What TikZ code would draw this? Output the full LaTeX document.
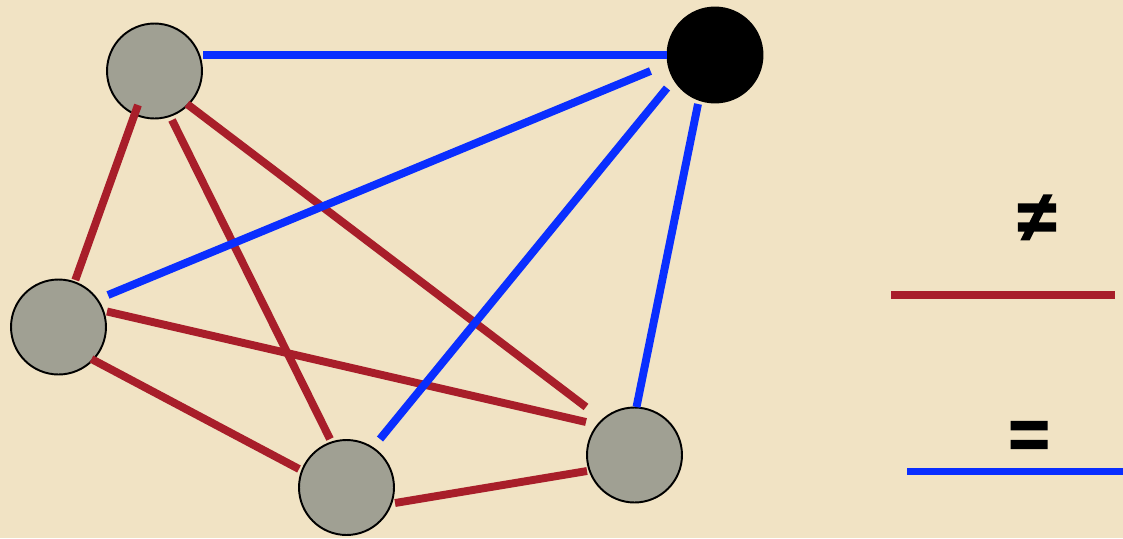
\documentclass[tikz,border=0pt]{standalone}
\usepackage{fontspec}
\setmainfont{Liberation Sans}
\newfontfamily\signfont[FakeBold=2.5]{Liberation Sans}
\usepackage{tikz}
\usepackage{xcolor}
\definecolor{paperc}{HTML}{F1E3C4}
\definecolor{vertexc}{HTML}{A0A093}
\definecolor{diffc}{HTML}{A81E2A}
\definecolor{samec}{HTML}{0A2EFF}
\tikzset{
  vertex/.style={circle, draw=black, line width=1.1pt, fill=vertexc, minimum size=1.9cm, inner sep=0pt},
  diff/.style={draw=diffc, line width=4.5pt},
  same/.style={draw=samec, line width=4.5pt},
  sign/.style={font=\signfont\bfseries\fontsize{40}{40}\selectfont, inner sep=0pt},
}

\begin{document}
\begin{tikzpicture}[x=0.02cm, y=-0.02cm]
\fill[paperc] (0,0) rectangle (1123,538);
\useasboundingbox (0,0) rectangle (1123,538);
\node[vertex] (a) at (154.5,71) {};
\node[vertex, fill=black] (b) at (715,55) {};
\node[vertex] (c) at (58.5,327) {};
\node[vertex] (d) at (346.5,487.5) {};
\node[vertex] (e) at (634.5,455) {};
% edges between different colours
\draw[diff] ([shift={(-16.5,34)}]a.center) -- ([shift={(16.8,-47)}]c.center);
\draw[diff] ([shift={(17.5,49)}]a.center) -- ([shift={(-16.5,-48.5)}]d.center);
\draw[diff] ([shift={(32.5,33)}]a.center) -- ([shift={(-48.5,-48)}]e.center);
\draw[diff] ([shift={(48.5,-15.5)}]c.center) -- ([shift={(-48.5,-33)}]e.center);
\draw[diff] ([shift={(33,32)}]c.center) -- ([shift={(-47.5,-18.5)}]d.center);
\draw[diff] ([shift={(48.5,15.5)}]d.center) -- ([shift={(-47.5,16)}]e.center);
% edges between equal colours
\draw[same] ([shift={(48.5,-16)}]a.center) -- ([shift={(-48,0)}]b.center);
\draw[same] ([shift={(-64.5,16)}]b.center) -- ([shift={(49.5,-32)}]c.center);
\draw[same] ([shift={(-48,33)}]b.center) -- ([shift={(33.5,-48.5)}]d.center);
\draw[same] ([shift={(-17,49)}]b.center) -- ([shift={(2,-48)}]e.center);
% legend
\node[sign] (neq) at (1037,218) {≠};
\draw[diff] (891,295) -- (1115,295);
\node[sign] (eq) at (1029,440) {=};
\draw[same] (907,471.5) -- (1123,471.5);
\end{tikzpicture}
\end{document}
